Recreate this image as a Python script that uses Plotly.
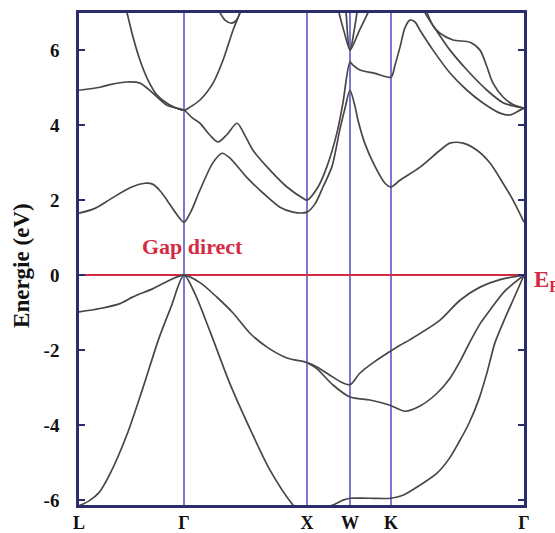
import plotly.graph_objects as go

# High-symmetry points along the k-path (path distance units)
hs_pos = [0, 105, 228, 271, 312, 445]
hs_labels = ["L", "Γ", "X", "W", "K", "Γ"]
y_tickvals = [-6, -4, -2, 0, 2, 4, 6]
y_ticktext = ["-6", "-4", "-2", "0", "2", "4", "6"]

# ---------------- valence bands ----------------
vb_heavy_k = [0, 21, 41, 54, 74, 91, 105, 121, 138, 154, 171, 188, 208, 228, 238, 254, 262, 271, 281, 296, 312, 321, 331, 361, 381, 401, 421, 445]
vb_heavy_e = [-0.98, -0.89, -0.76, -0.58, -0.36, -0.13, 0, -0.2, -0.59, -1.01, -1.55, -1.92, -2.21, -2.33, -2.45, -2.72, -2.85, -2.92, -2.61, -2.3, -2.02, -1.87, -1.72, -1.2, -0.67, -0.32, -0.12, 0]

vb_lower_k = [228, 238, 254, 271, 291, 311, 326, 341, 358, 371, 381, 391, 401, 411, 426, 445]
vb_lower_e = [-2.33, -2.5, -2.93, -3.25, -3.33, -3.47, -3.63, -3.49, -3.15, -2.75, -2.3, -1.78, -1.3, -0.93, -0.42, 0]

vb_light_k = [0, 10, 20, 31, 48, 64, 80, 92, 105, 116, 131, 151, 171, 191, 214, 228]
vb_light_e = [-6.15, -6.02, -5.8, -5.3, -4.25, -3.0, -1.68, -0.85, 0, -0.5, -1.5, -2.9, -4.1, -5.2, -6.13, -6.5]

vb_bottom_k = [228, 246, 254, 264, 271, 290, 312, 324, 341, 358, 370, 380, 390, 400, 408, 416, 426, 436, 445]
vb_bottom_e = [-6.4, -6.2, -6.13, -6.0, -5.95, -5.95, -5.95, -5.87, -5.6, -5.28, -4.9, -4.45, -3.95, -3.3, -2.6, -1.8, -1.15, -0.55, 0]

# ---------------- conduction bands ----------------
cb1_k = [0, 16, 31, 51, 66, 74, 81, 88, 97, 105, 112, 121, 134, 143, 151, 168, 184, 201, 214, 228, 236, 244, 253, 261, 266, 271, 276, 279, 286, 296, 306, 312, 321, 341, 361, 371, 384, 398, 411, 424, 434, 445]
cb1_e = [1.65, 1.78, 2.02, 2.33, 2.45, 2.42, 2.25, 2.0, 1.65, 1.41, 1.7, 2.27, 3.0, 3.25, 3.12, 2.6, 2.19, 1.81, 1.68, 1.68, 1.9, 2.35, 2.9, 3.9, 4.45, 4.93, 4.5, 4.13, 3.5, 2.9, 2.45, 2.35, 2.53, 2.88, 3.33, 3.52, 3.52, 3.33, 2.99, 2.45, 2.0, 1.41]

cb2_k = [0, 21, 31, 48, 61, 74, 88, 105, 113, 121, 131, 139, 148, 158, 166, 174, 191, 208, 224, 228, 239, 248, 258, 264, 271, 274, 281, 296, 312, 316, 321, 326, 331, 336, 341, 354, 371, 388, 404, 421, 431, 441, 445]
cb2_e = [4.93, 5.01, 5.08, 5.15, 5.12, 4.85, 4.53, 4.4, 4.2, 4.05, 3.73, 3.55, 3.75, 4.05, 3.72, 3.33, 2.8, 2.35, 2.05, 2.0, 2.35, 2.9, 3.8, 4.6, 5.68, 5.6, 5.47, 5.38, 5.28, 5.6, 6.08, 6.6, 6.8, 6.75, 6.53, 6.0, 5.39, 4.93, 4.59, 4.32, 4.27, 4.4, 4.45]

cb3_k = [44, 48, 54, 61, 69, 78, 90, 105, 111, 121, 134, 144, 154, 161, 165]
cb3_e = [7.4, 7.0, 6.35, 5.73, 5.2, 4.8, 4.55, 4.4, 4.48, 4.67, 5.12, 5.73, 6.53, 7.0, 7.3]

cb4_k = [136, 141, 146, 153, 158, 161, 165]
cb4_e = [7.3, 7.0, 6.8, 6.72, 6.82, 7.0, 7.3]

cbw1_k = [257, 260, 265, 271, 275, 278, 281]
cbw1_e = [7.4, 7.0, 6.5, 6.0, 6.5, 7.0, 7.4]

cbw2_k = [264, 267, 271, 280, 289, 293]
cbw2_e = [7.6, 7.0, 6.0, 6.5, 7.0, 7.25]

cbk1_k = [343, 348, 354, 361, 374, 391, 401, 408, 414, 424, 434, 445]
cbk1_e = [7.3, 7.0, 6.65, 6.45, 6.27, 6.21, 6.0, 5.55, 5.12, 4.75, 4.55, 4.45]

cbk2_k = [342, 346, 358, 371, 388, 408, 424, 436, 445]
cbk2_e = [7.3, 7.0, 6.5, 6.0, 5.47, 4.93, 4.6, 4.5, 4.45]

bands = [
    (vb_heavy_k, vb_heavy_e), (vb_lower_k, vb_lower_e), (vb_light_k, vb_light_e),
    (vb_bottom_k, vb_bottom_e), (cb1_k, cb1_e), (cb2_k, cb2_e), (cb3_k, cb3_e),
    (cb4_k, cb4_e), (cbw1_k, cbw1_e), (cbw2_k, cbw2_e), (cbk1_k, cbk1_e), (cbk2_k, cbk2_e),
]

NAVY = "#2c2c6c"
HSL = "#7a7ad2"
RED = "#d42a44"
BAND = "#474747"
SERIF = "Liberation Serif"

fig = go.Figure()
for k, e in bands:
    fig.add_trace(go.Scatter(x=k, y=e, mode="lines",
                             line=dict(color=BAND, width=1.7, shape="spline", smoothing=0.8),
                             hoverinfo="skip", showlegend=False))

fig.update_layout(
    width=555, height=533,
    margin=dict(l=79, r=31, t=13, b=28, autoexpand=False),
    paper_bgcolor="white", plot_bgcolor="white",
    showlegend=False,
    xaxis=dict(range=[0, 445], tickvals=hs_pos, ticktext=hs_labels,
               showgrid=True, gridcolor=HSL, gridwidth=1.5,
               showline=True, linecolor=NAVY, linewidth=2.5, mirror=True,
               ticks="", zeroline=False, ticklabelstandoff=0, automargin=False,
               tickfont=dict(family=SERIF, size=18, color="#111", weight="bold")),
    yaxis=dict(range=[-6.13, 6.99], tickvals=y_tickvals, ticktext=y_ticktext,
               showgrid=False, zeroline=True, zerolinecolor=RED, zerolinewidth=1.5,
               showline=True, linecolor=NAVY, linewidth=2.5, mirror="ticks",
               ticks="inside", ticklen=6, tickwidth=1.5, tickcolor=NAVY,
               ticklabelstandoff=13, automargin=False,
               tickfont=dict(family=SERIF, size=19, color="#111", weight="bold")),
    annotations=[
        dict(text="Energie (eV)", xref="paper", yref="paper", x=-0.128, y=0.486,
             xanchor="center", yanchor="middle", textangle=-90, showarrow=False,
             font=dict(family=SERIF, size=23, color="#111", weight="bold")),
        dict(text="Gap direct", xref="x", yref="y", x=113.5, y=0.77,
             xanchor="center", yanchor="middle", showarrow=False,
             font=dict(family=SERIF, size=22, color=RED, weight="bold")),
        dict(text="E<sub>F</sub>", xref="paper", yref="y", x=1.018, y=0,
             xanchor="left", yanchor="middle", yshift=-6, showarrow=False,
             font=dict(family=SERIF, size=23, color=RED, weight="bold")),
    ],
)

fig.write_html("out.html")
